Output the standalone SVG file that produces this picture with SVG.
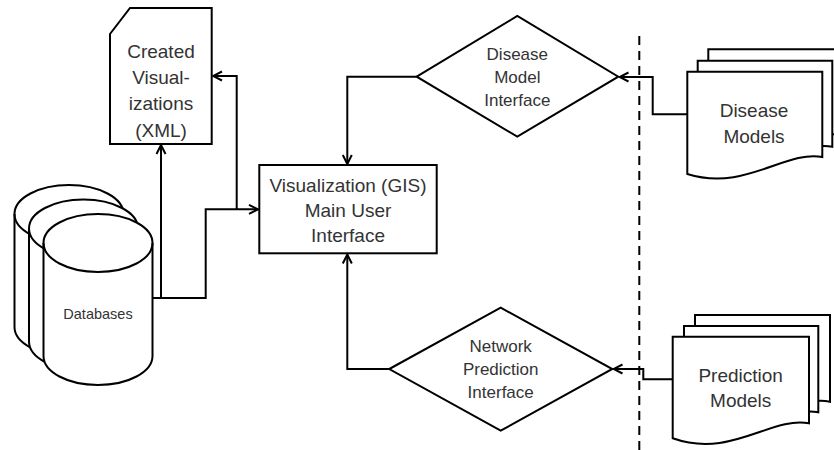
<svg xmlns="http://www.w3.org/2000/svg" width="834" height="450" viewBox="0 0 834 450">
<style>
.s{fill:#fff;stroke:#000;stroke-width:2;stroke-linejoin:miter}
.l{fill:none;stroke:#000;stroke-width:2}
.t{font-family:"Liberation Sans",Arial,sans-serif;fill:#333;text-anchor:middle}
.big{font-size:19px}
.mid{font-size:17px}
.sm{font-size:14.5px}
</style>
<defs>
<marker id="arr" viewBox="-11 -6 12 12" refX="0" refY="0" markerWidth="12" markerHeight="12" markerUnits="userSpaceOnUse" orient="auto">
<path d="M-9,-4.5 L0,0 L-9,4.5" fill="none" stroke="#000" stroke-width="2"/>
</marker>
</defs>
<rect width="834" height="450" fill="#fff"/>

<g id="created-visualizations">
<path class="s" d="M130,8 H211.7 V144 H110 V34 Z"/>
<text class="t big" x="161" y="58">Created</text>
<text class="t big" x="161" y="84">Visual-</text>
<text class="t big" x="161" y="110">izations</text>
<text class="t big" x="161" y="137">(XML)</text>
</g>

<g id="databases">
<path class="s" d="M14.5,214 A54.5,29 0 0 1 123.5,214 V327 A54.5,29 0 0 1 14.5,327 Z"/>
<path class="l" d="M14.5,214 A54.5,29 0 0 0 123.5,214"/>
<path class="s" d="M29,228.5 A54.5,29 0 0 1 138,228.5 V341.5 A54.5,29 0 0 1 29,341.5 Z"/>
<path class="l" d="M29,228.5 A54.5,29 0 0 0 138,228.5"/>
<path class="s" d="M43.5,243 A54.5,29 0 0 1 152.5,243 V356 A54.5,29 0 0 1 43.5,356 Z"/>
<path class="l" d="M43.5,243 A54.5,29 0 0 0 152.5,243"/>
<text class="t sm" x="98" y="319">Databases</text>
</g>

<g id="main-ui">
<rect class="s" x="259.3" y="165" width="177.4" height="88.3"/>
<text class="t big" x="348" y="192">Visualization (GIS)</text>
<text class="t big" x="348" y="217">Main User</text>
<text class="t big" x="348" y="242">Interface</text>
</g>

<g id="disease-model-interface">
<path class="s" d="M416.7,76.7 L517.3,16 L618.3,76.7 L517.3,136.7 Z"/>
<text class="t mid" x="517.3" y="60">Disease</text>
<text class="t mid" x="517.3" y="83">Model</text>
<text class="t mid" x="517.3" y="106">Interface</text>
</g>

<g id="network-prediction-interface">
<path class="s" d="M389.3,369 L500.7,307.7 L612.3,369 L500.7,430.7 Z"/>
<text class="t mid" x="500.7" y="352">Network</text>
<text class="t mid" x="500.7" y="375">Prediction</text>
<text class="t mid" x="500.7" y="398">Interface</text>
</g>

<g id="disease-models">
<path class="s" d="M708.3,49.3 H843.3 V135 C806,128 766,170 708.3,152 Z"/>
<path class="s" d="M697.7,60.7 H832.3 V146.7 C795,140 755,182 697.7,163.7 Z"/>
<path class="s" d="M687.3,71.7 H822.3 V157 C785,150 745,192 687.3,174 Z"/>
<text class="t big" x="754" y="117.3">Disease</text>
<text class="t big" x="754" y="143.3">Models</text>
</g>

<g id="prediction-models">
<path class="s" d="M695,315 H830 V401.7 C792,394 752,437 695,416.7 Z"/>
<path class="s" d="M684,326 H818.3 V412.3 C781,405 741,448 684,427.7 Z"/>
<path class="s" d="M672.7,336.7 H809 V423.3 C771,416 731,459 672.7,438.3 Z"/>
<text class="t big" x="740.7" y="381.7">Prediction</text>
<text class="t big" x="740.7" y="406.7">Models</text>
</g>

<g id="connectors">
<path class="l" d="M639.3,36 V450" stroke-dasharray="9,6"/>
<path class="l" d="M152.5,298 H205.7 V209.3 H258" marker-end="url(#arr)"/>
<path class="l" d="M161,298 V145" marker-end="url(#arr)"/>
<path class="l" d="M236.7,209.3 V76 H213" marker-end="url(#arr)"/>
<path class="l" d="M416.7,76.7 H347.3 V164" marker-end="url(#arr)"/>
<path class="l" d="M389.3,369 H347.3 V254.5" marker-end="url(#arr)"/>
<path class="l" d="M687.3,114.3 H652.7 V77 H619.5" marker-end="url(#arr)"/>
<path class="l" d="M672.7,379.3 H643.3 V369 H613.5" marker-end="url(#arr)"/>
</g>
</svg>
